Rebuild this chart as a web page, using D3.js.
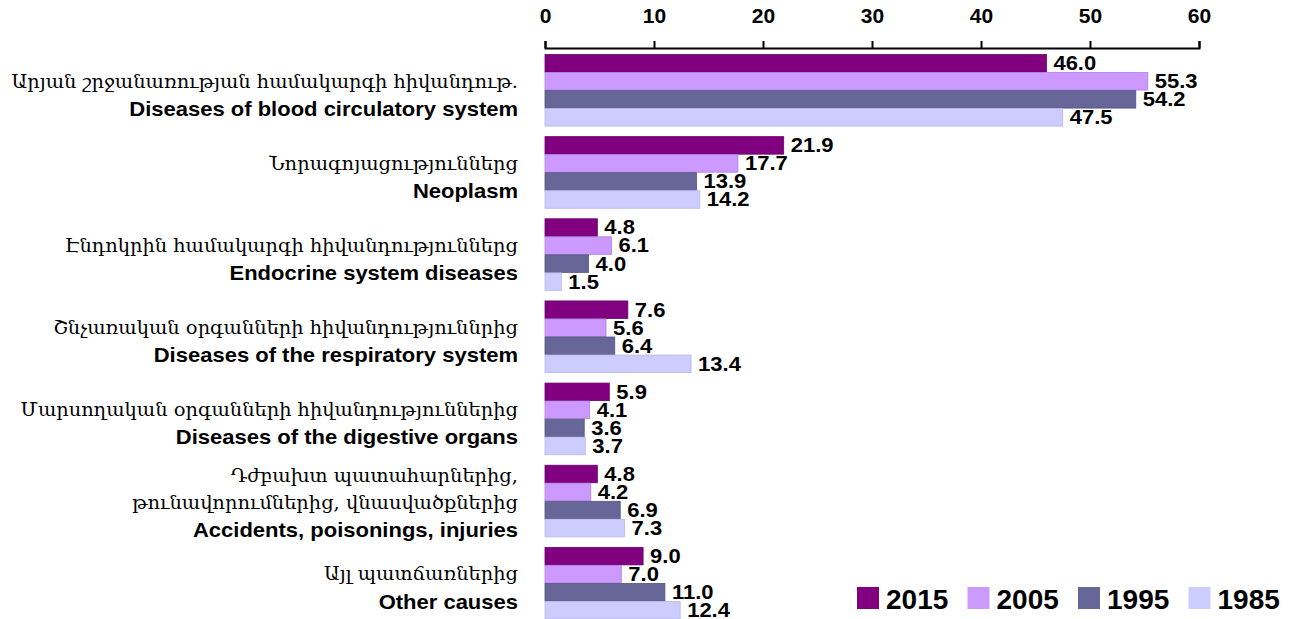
<!DOCTYPE html>
<html>
<head>
<meta charset="utf-8">
<script src="https://cdn.jsdelivr.net/npm/d3@7"></script>
<style>
  body{margin:0;background:#fff;}
  svg{display:block;}
  .tick text,.val,.en,.leg{font-family:"Liberation Sans",Arial,sans-serif;font-weight:bold;fill:#000;}
  .hy{font-family:"DejaVu Serif",serif;fill:#000;}
</style>
</head>
<body>
<svg id="chart" width="1300" height="619"></svg>
<script>
let labelsHy=[
  ["Արյան շրջանառության համակարգի հիվանդութ."],
  ["Նորագոյացություններց"],
  ["Էնդոկրին համակարգի հիվանդություններց"],
  ["Շնչառական օրգանների հիվանդություննրից"],
  ["Մարսողական օրգանների հիվանդություններից"],
  ["Դժբախտ պատահարներից,","թունավորումներից, վնասվածքներից"],
  ["Այլ պատճառներից"]
];
let labelsEn=[
  "Diseases of blood circulatory system",
  "Neoplasm",
  "Endocrine system diseases",
  "Diseases of the respiratory system",
  "Diseases of the digestive organs",
  "Accidents, poisonings, injuries",
  "Other causes"
];
let years=["2015","2005","1995","1985"];
let v2015=[46.0,21.9,4.8,7.6,5.9,4.8,9.0];
let v2005=[55.3,17.7,6.1,5.6,4.1,4.2,7.0];
let v1995=[54.2,13.9,4.0,6.4,3.6,6.9,11.0];
let v1985=[47.5,14.2,1.5,13.4,3.7,7.3,12.4];
let xTicks=[0,10,20,30,40,50,60];

let colors={"2015":"#800080","2005":"#cc99ff","1995":"#666699","1985":"#ccccff"};
let borders={"2015":"#6a006a","2005":"#b07fe0","1995":"#55557f","1985":"#b8b8ec"};

// the source text is a little wider than Arial, so stretch it sideways
const wide=(x,y)=>`translate(${x},${y}) scale(1.1,1)`;

const render=()=>{
  let series={"2015":v2015,"2005":v2005,"1995":v1995,"1985":v1985};
  let svg=d3.select("#chart");
  let x=d3.scaleLinear().domain([0,60]).range([545,1199]);
  let y=d3.scaleBand().domain(d3.range(labelsEn.length)).range([54,619]).paddingInner(10/82);
  let yy=d3.scaleBand().domain(years).range([0,y.bandwidth()]);

  let axis=svg.append("g")
    .attr("transform","translate(0,48)")
    .call(d3.axisTop(x).tickValues(xTicks).tickFormat(d3.format("d")).tickSize(7).tickPadding(18));
  axis.selectAll("path,line").attr("stroke","#000").attr("stroke-width",2);
  axis.selectAll(".tick text").style("font-size","21px");

  let groups=svg.selectAll(".grp")
    .data(d3.range(labelsEn.length))
    .enter()
      .append("g")
      .attr("class","grp")
      .attr("transform",(i)=>`translate(0,${y(i)})`);

  let bars=groups.selectAll(".bar")
    .data((i)=>years.map((yr)=>({yr:yr,v:series[yr][i]})))
    .enter()
      .append("g")
      .attr("class","bar");
  bars.append("rect")
    .attr("x",x(0))
    .attr("y",(d)=>yy(d.yr)+0.5)
    .attr("width",(d)=>x(d.v)-x(0))
    .attr("height",yy.bandwidth()-0.5)
    .attr("fill",(d)=>colors[d.yr])
    .attr("stroke",(d)=>borders[d.yr])
    .attr("stroke-width",0.8);
  bars.append("text")
    .attr("class","val")
    .attr("transform",(d)=>wide(x(d.v)+7,yy(d.yr)+yy.bandwidth()/2))
    .attr("dominant-baseline","central")
    .style("font-size","20px")
    .text((d)=>d.v.toFixed(1));

  groups.each(function(i){
    let g=d3.select(this);
    let lines=labelsHy[i].map((t)=>({t:t,cls:"hy"})).concat([{t:labelsEn[i],cls:"en"}]);
    let mid=y.bandwidth()/2;
    let start=mid-9-(lines.length-2)*16;
    g.selectAll(".lbl")
      .data(lines)
      .enter()
        .append("text")
        .attr("class",(d)=>"lbl "+d.cls)
        .attr("transform",(d,k)=>{
          let ty=start+k*26.5+(d.cls=="en"?1:0);
          return d.cls=="en"?wide(518,ty):`translate(518,${ty})`;
        })
        .attr("text-anchor","end")
        .attr("dominant-baseline","central")
        .style("font-size",(d)=>d.cls=="hy"?"19.4px":"20px")
        .text((d)=>d.t);
  });

  let legX=d3.scaleBand().domain(years).range([857,1299]);
  let leg=svg.selectAll(".legitem")
    .data(years)
    .enter()
      .append("g")
      .attr("class","legitem")
      .attr("transform",(d)=>`translate(${legX(d)},587)`);
  leg.append("rect")
    .attr("width",22)
    .attr("height",22)
    .attr("fill",(d)=>colors[d]);
  leg.append("text")
    .attr("class","leg")
    .attr("x",29)
    .attr("y",12)
    .attr("dominant-baseline","central")
    .style("font-size","28px")
    .text((d)=>d);
}

window.onload=render;
</script>
</body>
</html>
